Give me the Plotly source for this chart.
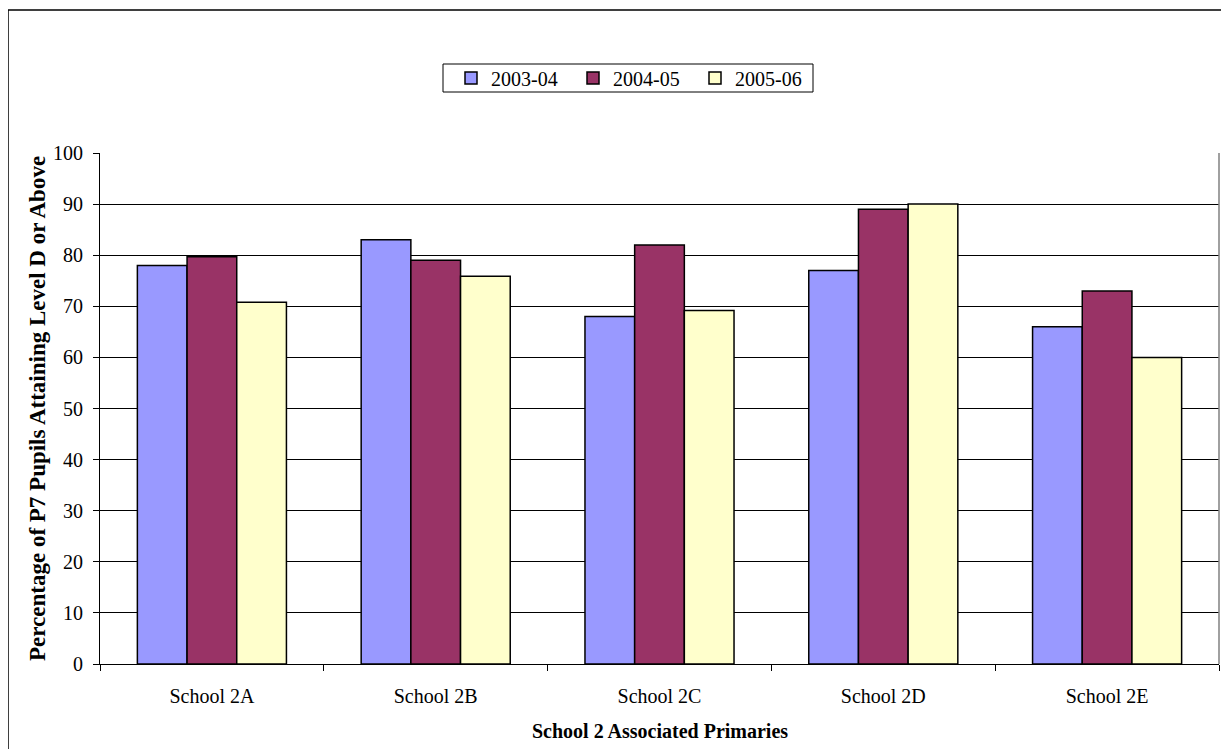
import plotly.graph_objects as go

categories = ["School 2A", "School 2B", "School 2C", "School 2D", "School 2E"]
series_names = ["2003-04", "2004-05", "2005-06"]
values_2003_04 = [78, 83, 68, 77, 66]
values_2004_05 = [79.7, 79, 82, 89, 73]
values_2005_06 = [70.8, 75.9, 69.2, 90, 60]
colors = ["#9999FF", "#993366", "#FFFFCC"]
y_ticks = list(range(0, 101, 10))

FONT = "Liberation Serif, Times New Roman, serif"
FS = 20

# page is drawn with an 8px body margin, so the figure is 8px smaller
W, H = 1221, 741
L, R, T, B = 92, 10, 145, 85
PW = W - L - R  # 1119
PH = H - T - B  # 511


def px_x(x):
    return (x - 8 - L) / PW


def px_y(y):
    return (8 + T + PH - y) / PH


fig = go.Figure()
for name, vals, col in zip(series_names, [values_2003_04, values_2004_05, values_2005_06], colors):
    fig.add_trace(go.Bar(
        x=categories, y=vals, name=name,
        marker=dict(color=col, line=dict(color="black", width=1.5)),
    ))

fig.update_layout(
    width=W, height=H,
    margin=dict(l=L, r=R, t=T, b=B, autoexpand=False),
    paper_bgcolor="white", plot_bgcolor="white",
    barmode="group", bargap=0.334, bargroupgap=0,
    font=dict(family=FONT, size=FS, color="black"),
    showlegend=True,
    legend=dict(
        orientation="h", x=px_x(451), y=px_y(78), xanchor="left", yanchor="middle",
        borderwidth=0, bgcolor="rgba(0,0,0,0)",
        font=dict(family=FONT, size=FS, color="black"),
        entrywidth=77, entrywidthmode="pixels",
        tracegroupgap=0,
    ),
    xaxis=dict(
        type="category", tickson="boundaries", ticks="outside", ticklen=6,
        tickcolor="black", showline=True, linecolor="black", linewidth=1,
        showgrid=False, tickfont=dict(family=FONT, size=FS),
        ticklabelstandoff=14,
    ),
    yaxis=dict(
        range=[0, 100], tickvals=y_ticks, ticks="outside", ticklen=6,
        tickcolor="black", showline=True, linecolor="black", linewidth=1,
        showgrid=True, gridcolor="black", gridwidth=1,
        tickfont=dict(family=FONT, size=FS), zeroline=False,
        ticklabelstandoff=6,
    ),
    shapes=[
        dict(type="rect", xref="paper", yref="paper",
             x0=px_x(8), x1=px_x(1240), y0=px_y(760), y1=px_y(10),
             line=dict(color="black", width=1.5), fillcolor="rgba(0,0,0,0)", layer="above"),
        dict(type="rect", xref="paper", yref="paper",
             x0=px_x(443), x1=px_x(813), y0=px_y(92), y1=px_y(64),
             line=dict(color="black", width=1), fillcolor="rgba(0,0,0,0)"),
        dict(type="line", xref="paper", yref="paper",
             x0=1, x1=1, y0=0, y1=1, line=dict(color="#808080", width=1.5)),
    ],
    annotations=[
        dict(text="<b>School 2 Associated Primaries</b>", xref="paper", yref="paper",
             x=0.5, y=px_y(731), xanchor="center", yanchor="middle",
             showarrow=False, font=dict(family=FONT, size=FS)),
        dict(text="<b>Percentage of P7 Pupils Attaining Level D or Above</b>", xref="paper", yref="paper",
             x=px_x(37), y=px_y(409), xanchor="center", yanchor="middle", textangle=-90,
             showarrow=False, font=dict(family=FONT, size=23)),
    ],
)

fig.write_html("out.html")
